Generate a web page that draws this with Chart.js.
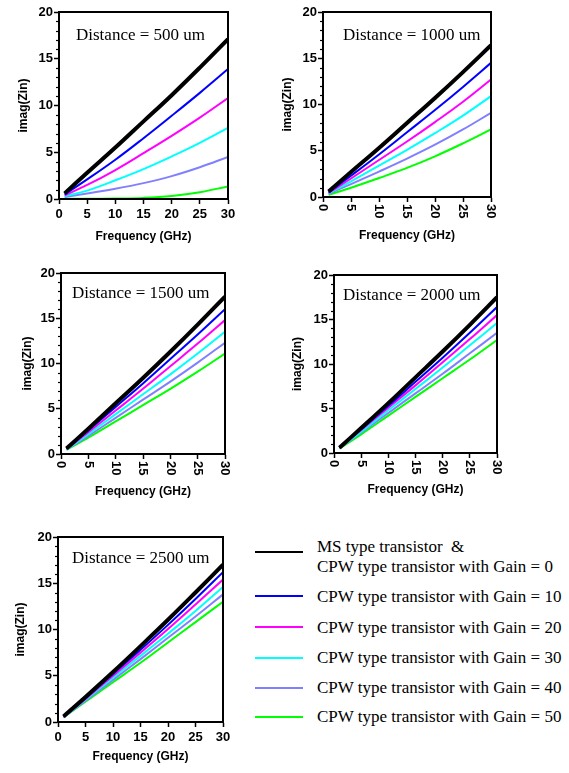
<!DOCTYPE html>
<html>
<head>
<meta charset="utf-8">
<script src="https://cdn.jsdelivr.net/npm/chart.js@4/dist/chart.umd.min.js"></script>
<style>
  html, body { margin: 0; padding: 0; background: #fff; }
  #wrap { position: relative; width: 569px; height: 773px; background: #fff; overflow: hidden; }
  canvas { position: absolute; }
  .ptitle { position: absolute; font-family: "Liberation Serif", "Times New Roman", serif; font-size: 17px; line-height: 20px; color: #000; white-space: pre; }
  .lg-sw { position: absolute; height: 2px; width: 48px; }
  .lg-tx { position: absolute; font-family: "Liberation Serif", "Times New Roman", serif; font-size: 17px; line-height: 20px; color: #000; white-space: pre; }
</style>
</head>
<body>
<div id="wrap"></div>
<script>
// ---------- DATA ----------
const freqGHz = [1, 5, 10, 15, 20, 25, 30];
const xTicks = [0, 5, 10, 15, 20, 25, 30];
const yTicks = [0, 5, 10, 15, 20];
const seriesNames = [
  "MS type transistor  &\nCPW type transistor with Gain = 0",
  "CPW type transistor with Gain = 10",
  "CPW type transistor with Gain = 20",
  "CPW type transistor with Gain = 30",
  "CPW type transistor with Gain = 40",
  "CPW type transistor with Gain = 50"
];
const panelTitles = ["Distance = 500 um", "Distance = 1000 um", "Distance = 1500 um", "Distance = 2000 um", "Distance = 2500 um"];

// Distance = 500 um
const d500_g0  = [0.6, 2.8, 5.5, 8.3, 11.1, 14.05, 17.1];
const d500_g10 = [0.5, 2.1, 4.2, 6.5, 8.9, 11.35, 13.9];
const d500_g20 = [0.4, 1.5, 3.1, 4.9, 6.75, 8.7, 10.8];
const d500_g30 = [0.3, 0.9, 2.0, 3.2, 4.55, 6.0, 7.6];
const d500_g40 = [0.2, 0.6, 1.1, 1.7, 2.45, 3.4, 4.5];
const d500_g50 = [0.02, 0.02, 0.05, 0.12, 0.32, 0.72, 1.35];
// Distance = 1000 um
const d1000_g0  = [0.6, 2.7, 5.3, 8.0, 10.7, 13.5, 16.4];
const d1000_g10 = [0.5, 2.3, 4.6, 7.0, 9.4, 11.9, 14.5];
const d1000_g20 = [0.45, 2.0, 4.0, 6.0, 8.1, 10.3, 12.7];
const d1000_g30 = [0.4, 1.7, 3.4, 5.1, 6.9, 8.8, 10.9];
const d1000_g40 = [0.35, 1.4, 2.75, 4.15, 5.65, 7.3, 9.1];
const d1000_g50 = [0.25, 1.0, 2.05, 3.15, 4.4, 5.8, 7.3];
// Distance = 1500 um
const d1500_g0  = [0.6, 2.8, 5.6, 8.4, 11.3, 14.3, 17.4];
const d1500_g10 = [0.6, 2.6, 5.2, 7.8, 10.5, 13.2, 16.0];
const d1500_g20 = [0.55, 2.4, 4.8, 7.2, 9.7, 12.2, 14.8];
const d1500_g30 = [0.5, 2.2, 4.4, 6.6, 8.8, 11.1, 13.5];
const d1500_g40 = [0.5, 2.0, 4.0, 6.0, 8.0, 10.1, 12.3];
const d1500_g50 = [0.45, 1.8, 3.6, 5.4, 7.2, 9.1, 11.1];
// Distance = 2000 um
const d2000_g0  = [0.6, 2.8, 5.6, 8.5, 11.4, 14.4, 17.5];
const d2000_g10 = [0.6, 2.7, 5.3, 8.0, 10.7, 13.5, 16.4];
const d2000_g20 = [0.6, 2.6, 5.1, 7.6, 10.2, 12.8, 15.5];
const d2000_g30 = [0.55, 2.4, 4.8, 7.2, 9.6, 12.1, 14.6];
const d2000_g40 = [0.55, 2.3, 4.5, 6.7, 8.9, 11.2, 13.5];
const d2000_g50 = [0.5, 2.1, 4.2, 6.3, 8.4, 10.5, 12.7];
// Distance = 2500 um
const d2500_g0  = [0.6, 2.7, 5.4, 8.2, 11.05, 14.0, 17.0];
const d2500_g10 = [0.6, 2.6, 5.2, 7.8, 10.5, 13.3, 16.2];
const d2500_g20 = [0.55, 2.5, 5.0, 7.5, 10.05, 12.7, 15.4];
const d2500_g30 = [0.55, 2.4, 4.8, 7.15, 9.55, 12.0, 14.6];
const d2500_g40 = [0.5, 2.3, 4.55, 6.8, 9.1, 11.4, 13.8];
const d2500_g50 = [0.5, 2.2, 4.3, 6.4, 8.6, 10.8, 13.0];

const panelData = [
  [d500_g0, d500_g10, d500_g20, d500_g30, d500_g40, d500_g50],
  [d1000_g0, d1000_g10, d1000_g20, d1000_g30, d1000_g40, d1000_g50],
  [d1500_g0, d1500_g10, d1500_g20, d1500_g30, d1500_g40, d1500_g50],
  [d2000_g0, d2000_g10, d2000_g20, d2000_g30, d2000_g40, d2000_g50],
  [d2500_g0, d2500_g10, d2500_g20, d2500_g30, d2500_g40, d2500_g50]
];

// ---------- STYLE / LAYOUT ----------
const colors = ["#000000", "#0000ff", "#ff00ff", "#00ffff", "#8080ff", "#00ff00"];
const widths = [4, 2, 2, 2, 2, 2];
const panels = [
  { cx: 0,   cy: 0,   w: 250, h: 250, L: 59, T: 12, R: 22, B: 51, rot: false, yTP: 16, xTP: 6,  ax: 17, ay: 23 },
  { cx: 280, cy: 0,   w: 250, h: 250, L: 43, T: 12, R: 39, B: 53, rot: true,  yTP: 0,  xTP: 7,  ax: 20, ay: 23 },
  { cx: 0,   cy: 260, w: 250, h: 250, L: 61, T: 13, R: 25, B: 56, rot: true,  yTP: 20, xTP: 11, ax: 11, ay: 20 },
  { cx: 280, cy: 260, w: 250, h: 250, L: 54, T: 15, R: 33, B: 57, rot: true,  yTP: 10, xTP: 13, ax: 9,  ay: 20 },
  { cx: 0,   cy: 520, w: 250, h: 253, L: 58, T: 17, R: 27, B: 51, rot: false, yTP: 13, xTP: 9,  ax: 14, ay: 21 }
];

const tickFont = { family: "'Liberation Sans', Arial, sans-serif", size: 13, weight: 'bold' };
const titleFont = { family: "'Liberation Sans', Arial, sans-serif", size: 12, weight: 'bold' };

const decoPlugin = {
  id: 'deco',
  afterDraw(chart, args, opts) {
    const ctx = chart.ctx;
    const a = chart.chartArea;
    const xs = chart.scales.x, ys = chart.scales.y;
    ctx.save();
    ctx.strokeStyle = '#000';
    ctx.lineWidth = 2;
    ctx.strokeRect(a.left, a.top, a.right - a.left, a.bottom - a.top);
    ctx.lineWidth = 1.2;
    for (let v = ys.min; v <= ys.max; v += 1) {
      if (v % 5 === 0) continue;
      const py = Math.round(ys.getPixelForValue(v)) + 0.5;
      ctx.beginPath();
      ctx.moveTo(a.left - 3, py);
      ctx.lineTo(a.left, py);
      ctx.stroke();
    }
    if (opts.rotated) {
      ctx.fillStyle = '#000';
      ctx.font = `bold ${tickFont.size}px ${tickFont.family}`;
      ctx.textAlign = 'left';
      ctx.textBaseline = 'middle';
      xs.ticks.forEach(t => {
        const px = xs.getPixelForValue(t.value);
        ctx.save();
        ctx.translate(px, a.bottom + 7);
        ctx.rotate(Math.PI / 2);
        ctx.fillText(String(t.value), 0, 0);
        ctx.restore();
      });
    }
    ctx.restore();
  }
};

const wrap = document.getElementById('wrap');

panels.forEach((p, i) => {
  const cv = document.createElement('canvas');
  cv.width = p.w; cv.height = p.h;
  cv.style.left = p.cx + 'px'; cv.style.top = p.cy + 'px';
  cv.style.width = p.w + 'px'; cv.style.height = p.h + 'px';
  wrap.appendChild(cv);

  const ttl = document.createElement('div');
  ttl.className = 'ptitle';
  ttl.textContent = panelTitles[i];
  ttl.style.left = (p.cx + p.L + p.ax) + 'px';
  ttl.style.top = (p.cy + p.T + p.ay - 10) + 'px';
  wrap.appendChild(ttl);

  const datasets = panelData[i].map((vals, k) => ({
    label: seriesNames[k],
    data: freqGHz.map((f, j) => ({ x: f, y: vals[j] })),
    borderColor: colors[k],
    backgroundColor: colors[k],
    borderWidth: widths[k],
    pointRadius: 0,
    fill: false,
    tension: 0.4,
    order: k
  }));

  new Chart(cv, {
    type: 'line',
    data: { datasets },
    plugins: [decoPlugin],
    options: {
      responsive: false,
      animation: false,
      devicePixelRatio: 1,
      layout: { padding: { left: 0, top: p.T, right: p.R, bottom: 0 } },
      plugins: {
        legend: { display: false },
        tooltip: { enabled: false },
        deco: { rotated: p.rot }
      },
      scales: {
        x: {
          type: 'linear',
          min: 0, max: 30,
          afterBuildTicks: (s) => { s.ticks = xTicks.map(v => ({ value: v })); },
          afterFit: (s) => { s.height = p.B; s.paddingLeft = 0; s.paddingRight = 0; },
          ticks: { display: !p.rot, stepSize: 5, font: tickFont, color: '#000', padding: 3, maxRotation: 0, minRotation: 0 },
          grid: { drawOnChartArea: false, drawTicks: true, tickLength: 5, color: '#000', tickWidth: 1.5 },
          border: { display: true, color: '#000', width: 2 },
          title: { display: true, text: 'Frequency (GHz)', font: titleFont, color: '#000', padding: { top: 0, bottom: p.xTP } }
        },
        y: {
          type: 'linear',
          min: 0, max: 20,
          afterBuildTicks: (s) => { s.ticks = yTicks.map(v => ({ value: v })); },
          afterFit: (s) => { s.width = p.L; s.paddingTop = 0; s.paddingBottom = 0; },
          ticks: { stepSize: 5, font: tickFont, color: '#000', padding: 1 },
          grid: { drawOnChartArea: false, drawTicks: true, tickLength: 5, color: '#000', tickWidth: 1.5 },
          border: { display: true, color: '#000', width: 2 },
          title: { display: true, text: 'imag(Zin)', font: titleFont, color: '#000', padding: { top: p.yTP, bottom: 0 } }
        }
      }
    }
  });
});

// ---------- LEGEND ----------
const legendSwatchY = [552, 596, 627, 658, 688, 717];
const legendTextY = [547, 597, 628, 658, 688, 717];
seriesNames.forEach((name, k) => {
  const sw = document.createElement('div');
  sw.className = 'lg-sw';
  sw.style.left = '255px';
  sw.style.top = (legendSwatchY[k] - 1) + 'px';
  sw.style.background = colors[k];
  wrap.appendChild(sw);
  const tx = document.createElement('div');
  tx.className = 'lg-tx';
  tx.textContent = name;
  tx.style.left = '317px';
  tx.style.top = (legendTextY[k] - 10) + 'px';
  wrap.appendChild(tx);
});
</script>
</body>
</html>
